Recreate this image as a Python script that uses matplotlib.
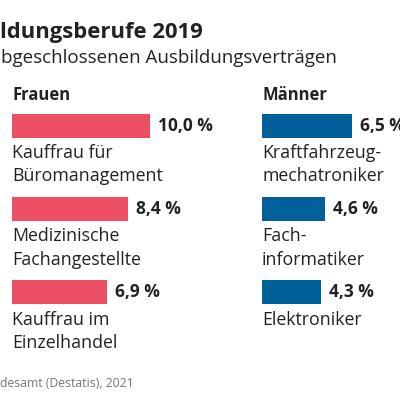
import matplotlib
matplotlib.use("Agg")
import matplotlib.pyplot as plt

# Data
women_jobs = ["Kauffrau für\nBüromanagement", "Medizinische\nFachangestellte", "Kauffrau im\nEinzelhandel"]
women_vals = [10.0, 8.4, 6.9]
men_jobs = ["Kraftfahrzeug-\nmechatroniker", "Fach-\ninformatiker", "Elektroniker"]
men_vals = [6.5, 4.6, 4.3]
title = "ldungsberufe 2019"
subtitle = "bgeschlossenen Ausbildungsverträgen"
source = "desamt (Destatis), 2021"
headers = ["Frauen", "Männer"]

plt.rcParams['font.family'] = ['Open Sans', 'DejaVu Sans']
TXT = "#222222"
RED = "#EC4E63"
BLUE = "#00619A"

W, H = 400, 400
fig = plt.figure(figsize=(4, 4), dpi=100)
fig.patch.set_facecolor("white")

PX_PER_PCT = 13.8

def px(x, y):
    return x / W, 1 - y / H

def make_ax(left_px, width_px, jobs, vals, color, header):
    top_px, bottom_px = 84, 334
    ax = fig.add_axes([left_px / W, 1 - bottom_px / H, width_px / W, (bottom_px - top_px) / H])
    ax.set_xlim(0, width_px / PX_PER_PCT)
    ax.set_ylim(3, 0)
    ax.axis("off")
    ys = [i + 0.5 for i in range(len(vals))]
    h = 0.29
    ax.barh(ys, vals, height=h, color=color, edgecolor="none")
    for y, v, lab in zip(ys, vals, jobs):
        ax.annotate(f"{v:.1f} %".replace(".", ","), xy=(v, y), xytext=(8, 0),
                    textcoords="offset pixels", ha="left", va="center",
                    fontsize=12.5, fontweight="bold", color=TXT, annotation_clip=False)
        for j, line in enumerate(lab.split("\n")):
            ax.annotate(line, xy=(0, y), xytext=(0, -(32.3 + 23.4 * j)),
                        textcoords="offset pixels", ha="left", va="baseline",
                        fontsize=12.8, color=TXT, annotation_clip=False)
    fig.text(*px(left_px, 100), header, fontsize=12, fontweight="bold", color=TXT,
             ha="left", va="baseline")
    return ax

make_ax(12, 240, women_jobs, women_vals, RED, headers[0])
make_ax(262, 138, men_jobs, men_vals, BLUE, headers[1])

fig.text(*px(0, 38), title, fontsize=15.8, fontweight="bold", color=TXT, ha="left", va="baseline")
fig.text(*px(337, 63), subtitle, fontsize=13.5, color=TXT, ha="right", va="baseline")
fig.text(*px(0, 387), source, fontsize=8.8, color="#777777", ha="left", va="baseline")

fig.savefig("out.png", dpi=100, facecolor="white")
